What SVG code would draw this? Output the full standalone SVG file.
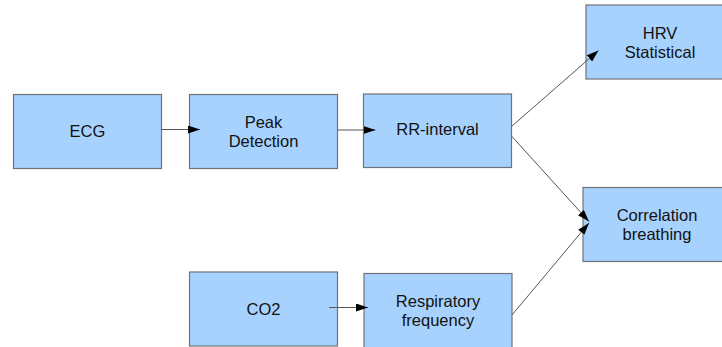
<svg xmlns="http://www.w3.org/2000/svg" width="722" height="347" viewBox="0 0 722 347">
<style>
.box{fill:#a8d2fe;stroke:#6e7379;stroke-width:1.2}
.lbl{font-family:"Liberation Sans",Arial,sans-serif;font-size:16.5px;fill:#111;text-anchor:middle}
.con{stroke:#555;stroke-width:1;fill:none}
</style>
<defs>
<marker id="ah" markerUnits="userSpaceOnUse" markerWidth="13" markerHeight="9" refX="12" refY="4" orient="auto" viewBox="0 0 13 9">
<path d="M0,0 L12,4 L0,8 z" fill="#000"/>
</marker>
</defs>
<rect width="722" height="347" fill="#fff"/>
<g id="ecg"><rect class="box" x="13.5" y="94.5" width="148" height="74"/><text class="lbl" x="87.5" y="137">ECG</text></g>
<g id="peak"><rect class="box" x="189.5" y="94.5" width="148" height="74"/><text class="lbl" x="263.5" y="127.5">Peak</text><text class="lbl" x="263.5" y="146.5">Detection</text></g>
<g id="rr"><rect class="box" x="363.5" y="94" width="148" height="73.5"/><text class="lbl" x="437.5" y="135">RR-interval</text></g>
<g id="hrv"><rect class="box" x="586" y="5" width="148" height="74"/><text class="lbl" x="660" y="38.5">HRV</text><text class="lbl" x="660" y="57.5">Statistical</text></g>
<g id="corr"><rect class="box" x="583" y="187.5" width="148" height="74"/><text class="lbl" x="657" y="220.5">Correlation</text><text class="lbl" x="657" y="240">breathing</text></g>
<g id="co2"><rect class="box" x="189.5" y="272" width="148" height="74"/><text class="lbl" x="263.5" y="315">CO2</text></g>
<g id="resp"><rect class="box" x="364" y="273.5" width="148" height="80"/><text class="lbl" x="438" y="306.5">Respiratory</text><text class="lbl" x="438" y="325.5">frequency</text></g>
<g id="connectors">
<line class="con" x1="161.5" y1="129.5" x2="200" y2="129.5" marker-end="url(#ah)"/>
<line class="con" x1="337.5" y1="130" x2="375.5" y2="130" marker-end="url(#ah)"/>
<line class="con" x1="511.5" y1="126.5" x2="598.5" y2="50.5" marker-end="url(#ah)"/>
<line class="con" x1="511.5" y1="136" x2="589" y2="221.5" marker-end="url(#ah)"/>
<line class="con" x1="512" y1="315" x2="589" y2="223" marker-end="url(#ah)"/>
<line class="con" x1="329" y1="307.5" x2="368" y2="307.5" marker-end="url(#ah)"/>
</g>
</svg>
